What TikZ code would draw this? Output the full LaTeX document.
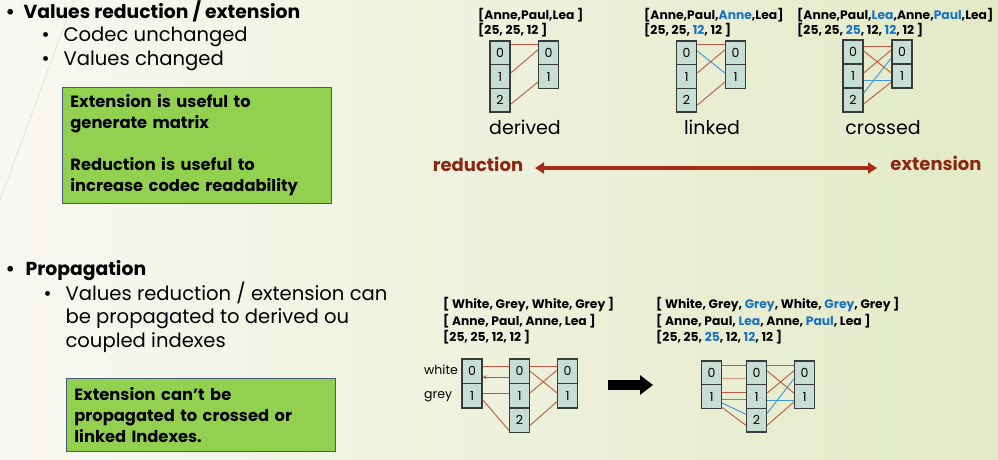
\documentclass[tikz,border=0pt]{standalone}
\usepackage{fontspec}
\setmainfont{Poppins}
\usetikzlibrary{arrows.meta}
\definecolor{bgleft}{RGB}{248,248,242}
\definecolor{bgright}{RGB}{227,234,198}
\definecolor{themeline}{RGB}{220,222,208}
\definecolor{cellfill}{RGB}{198,222,211}
\definecolor{cellline}{RGB}{55,60,58}
\definecolor{linkred}{RGB}{190,88,66}
\definecolor{linklight}{RGB}{214,150,130}
\definecolor{linkblue}{RGB}{66,146,214}
\definecolor{idxblue}{RGB}{22,114,198}
\definecolor{notegreen}{RGB}{146,208,80}
\definecolor{noteline}{RGB}{70,90,120}
\definecolor{arrowred}{RGB}{166,44,22}
\definecolor{wordred}{RGB}{140,40,18}
\tikzset{
cell/.style={draw=cellline,fill=cellfill,line width=1.3pt,minimum width=20pt,inner sep=0pt,font=\fontsize{12.5}{13}\selectfont},
link/.style={linkred,line width=0.9pt},
lightlink/.style={linklight,line width=0.9pt},
blink/.style={linkblue,line width=0.9pt},
note/.style={draw=noteline,fill=notegreen,line width=0.8pt,anchor=north west,align=left,text width=253pt,inner xsep=8pt,font=\fontsize{16.3}{21}\selectfont\bfseries},
head/.style={anchor=base west,font=\fontsize{18.8}{20}\selectfont\bfseries},
item/.style={anchor=base west,font=\fontsize{19.6}{20}\selectfont},
vec/.style={anchor=base west,inner sep=0pt,font=\fontsize{12.3}{13}\selectfont\bfseries},
kind/.style={anchor=base,font=\fontsize{19}{20}\selectfont},
side/.style={anchor=base,font=\fontsize{18}{19}\selectfont\bfseries,wordred},
dblarrow/.style={arrowred,line width=4pt,{Triangle[length=9pt,width=11pt]}-{Triangle[length=9pt,width=11pt]}},
bigarrow/.style={black,line width=10pt,-{Triangle[length=13pt,width=19pt]}}
}
% one column of index cells: name, x, top, last index, cell height
\newcommand{\idxcol}[5]{\foreach \i in {0,...,#4}{\node[cell,minimum height=#5pt] (#1\i) at (#2,{#3+(\i+0.5)*#5}) {\i};}}

\begin{document}
\begin{tikzpicture}[x=1pt,y=-1pt]
\useasboundingbox (0,0) rectangle (998,459);
\shade[left color=bgleft,right color=bgright] (0,0) rectangle (998,459);
\draw[themeline,line width=0.6pt] (74,0) -- (0,200);

% left column texts
\node[head] (b1) at (2,18) {•};
\node[head] (h1) at (20,18) {Values reduction / extension};
\node[item] (b11) at (38,41) {•};
\node[item] (s11) at (60,41) {Codec unchanged};
\node[item] (b12) at (38,65) {•};
\node[item] (s12) at (60,65) {Values changed};
\node[note,minimum height=116pt] (n1) at (62,87) {Extension is useful to\\generate matrix\\[21pt]Reduction is useful to\\increase codec readability};

\node[head] (b2) at (2,275) {•};
\node[head] (h2) at (22,275) {Propagation};
\node[item] (b21) at (40,300) {•};
\node[item] (s21) at (62,300) {Values reduction / extension can};
\node[item] (s22) at (62,323) {be propagated to derived ou};
\node[item] (s23) at (62,347) {coupled indexes};
\node[note,minimum height=73pt] (n2) at (66,378) {Extension can’t be\\propagated to crossed or\\linked Indexes.};

% derived / linked / crossed
\node[vec] (v1a) at (478,19) {[Anne,Paul,Lea ]};
\node[vec] (v1b) at (478,34) {[25, 25, 12 ]};
\node[vec] (v2a) at (644,19) {[Anne,Paul,\textcolor{idxblue}{Anne},Lea]};
\node[vec] (v2b) at (644,34) {[25, 25, \textcolor{idxblue}{12}, 12 ]};
\node[vec] (v3a) at (797,19) {[Anne,Paul,\textcolor{idxblue}{Lea},Anne,\textcolor{idxblue}{Paul},Lea]};
\node[vec] (v3b) at (797,34) {[25, 25, \textcolor{idxblue}{25}, 12, \textcolor{idxblue}{12}, 12 ]};

\idxcol{dL}{500}{41}{2}{23.7}
\idxcol{dR}{548.5}{41}{1}{23.7}
\idxcol{kL}{686.5}{41}{2}{23.7}
\idxcol{kR}{735.5}{41}{1}{23.7}
\idxcol{cL}{853}{40}{2}{24}
\idxcol{cR}{902}{40}{1}{24}

\foreach \s/\u/\t/\v in {dL0/8/dR0/8,dL1/3.5/dR0/3,dL2/-4/dR1/-5.5,kL0/8/kR0/8,kL1/3.5/kR0/3,kL2/-5/kR1/-5.5,cL0/6/cR0/6,cL0/1/cR1/3,cL1/3/cR0/2,cL2/-4/cR1/-6}
  \draw[link] ([yshift=\u pt]\s.east) -- ([yshift=\v pt]\t.west);
\foreach \s/\u/\t/\v in {kL0/2/kR1/3.5,cL1/-4/cR1/-4,cL2/7/cR0/-6}
  \draw[blink] ([yshift=\u pt]\s.east) -- ([yshift=\v pt]\t.west);

\node[kind] (k1) at (525,134) {derived};
\node[kind] (k2) at (712,134) {linked};
\node[kind] (k3) at (883,134) {crossed};

\node[side] (red) at (478,171) {reduction};
\node[side] (ext) at (936,170) {extension};
\coordinate (rl) at (535,168);
\coordinate (rr) at (877,168);
\draw[dblarrow] (rl) -- (rr);

% propagation
\node[vec] (w1a) at (443,308) {[ White, Grey, White, Grey ]};
\node[vec] (w1b) at (443,325) {[ Anne, Paul, Anne, Lea ]};
\node[vec] (w1c) at (443,341) {[25, 25, 12, 12 ]};
\node[vec] (w2a) at (656,308) {[ White, Grey, \textcolor{idxblue}{Grey}, White, \textcolor{idxblue}{Grey}, Grey ]};
\node[vec] (w2b) at (656,325) {[ Anne, Paul, \textcolor{idxblue}{Lea}, Anne, \textcolor{idxblue}{Paul}, Lea ]};
\node[vec] (w2c) at (656,341) {[25, 25, \textcolor{idxblue}{25}, 12, \textcolor{idxblue}{12}, 12 ]};

\node[anchor=base west,inner sep=0pt,font=\fontsize{12.5}{13}\selectfont] (lw) at (424,374) {white};
\node[anchor=base west,inner sep=0pt,font=\fontsize{12.5}{13}\selectfont] (lg) at (424,398) {grey};

\idxcol{pA}{472}{359}{1}{24.5}
\idxcol{pB}{519.5}{359}{2}{24.5}
\idxcol{pC}{567.5}{359}{1}{24.5}
\idxcol{qA}{711.5}{361}{1}{23.7}
\idxcol{qB}{756.5}{361}{2}{23.7}
\idxcol{qC}{804.5}{361}{1}{23.7}

\foreach \s/\u/\t/\v in {pA0/5/pB0/5,pA1/2/pB1/2,pA1/-4/pB2/-10,pB0/5/pC0/5,pB0/0/pC1/3,pB1/3/pC0/1,pB2/-5/pC1/-6,qA0/7/qB0/7,qA1/4.5/qB1/4.5,qA1/-11/qB2/-5,qB0/7/qC0/7,qB0/2/qC1/3.5,qB1/3.5/qC0/2,qB2/-5/qC1/-5.5}
  \draw[link] ([yshift=\u pt]\s.east) -- ([yshift=\v pt]\t.west);
\draw[link,-{Stealth[length=4pt,width=4pt]}] ([yshift=-6pt]pB0.west) -- ([yshift=-6pt]pA0.east);
\draw[lightlink] ([yshift=-6pt]qA0.east) -- ([yshift=-6pt]qB0.west);
\foreach \s/\u/\t/\v in {qA1/-2.5/qB1/-2.5,qA1/-6.5/qB2/6,qB1/-3.5/qC1/-3.5,qB2/7/qC0/-6}
  \draw[blink] ([yshift=\u pt]\s.east) -- ([yshift=\v pt]\t.west);

\coordinate (go1) at (608,385);
\coordinate (go2) at (653,385);
\draw[bigarrow] (go1) -- (go2);
\end{tikzpicture}
\end{document}
